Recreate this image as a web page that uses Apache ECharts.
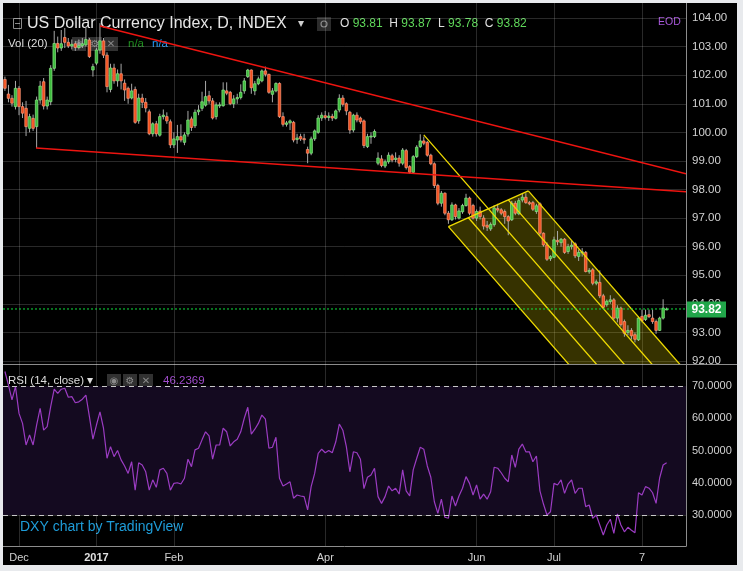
<!DOCTYPE html>
<html>
<head>
<meta charset="utf-8">
<title>US Dollar Currency Index</title>
<script src="https://cdn.jsdelivr.net/npm/echarts@6.0.0/dist/echarts.min.js"></script>
<style>
    html, body { margin: 0; padding: 0; background: #e8eaed; }
    #chart { position: absolute; left: 3px; top: 3px; width: 734px; height: 562px; background: #000; }
</style>
</head>
<body>
<div id="chart"></div>
<script>
// x = trading-day index, 0 = 1 Dec 2016, one step per weekday
var firstDay = -4;
var dayMin = -4.55, dayMax = 189.5;
var tickDays = [0, 22, 44, 87, 130, 152, 177];
var tickNames = ['Dec', '2017', 'Feb', 'Apr', 'Jun', 'Jul', '7'];
var priceTicks = [92, 93, 94, 95, 96, 97, 98, 99, 100, 101, 102, 103, 104];
var rsiTicks = [30, 40, 50, 60, 70];

var opens = [
    101.85, 101.34, 101.19, 100.90, 101.54, 100.90, 100.84, 100.14, 100.49, 100.20,
    101.13, 101.77, 100.92, 101.07, 102.24, 103.11, 102.95, 103.32, 103.15, 103.02,
    103.10, 102.97, 103.03, 103.06, 103.23, 102.18, 102.42, 102.88, 103.20, 102.70,
    101.50, 102.25, 101.80, 102.05, 101.72, 101.54, 101.20, 101.50, 100.40, 101.20,
    101.05, 100.72, 99.95, 100.30, 99.90, 100.55, 100.55, 100.37, 99.56, 99.73,
    99.85, 99.65, 99.94, 100.47, 100.23, 100.72, 100.84, 100.95, 101.28, 101.10,
    100.55, 100.95, 100.93, 101.45, 101.40, 101.00, 101.17, 101.22, 101.45, 101.95,
    102.18, 101.45, 101.70, 101.80, 102.15, 102.03, 101.33, 101.45, 101.71, 100.55,
    100.28, 100.33, 100.35, 99.75, 99.85, 99.78, 99.40, 99.27, 99.77, 100.00,
    100.50, 100.58, 100.52, 100.56, 100.49, 100.78, 101.20, 101.00, 100.70, 100.08,
    100.60, 100.50, 100.40, 99.50, 99.85, 99.85, 98.92, 99.07, 98.82, 98.97,
    99.18, 99.05, 99.10, 98.92, 99.36, 98.80, 98.60, 99.15, 99.50, 99.70,
    99.65, 99.20, 98.90, 98.14, 97.52, 97.87, 97.17, 96.94, 97.46, 97.00,
    97.22, 97.44, 97.70, 97.44, 97.00, 97.25, 97.00, 96.75, 96.62, 96.77,
    97.33, 97.29, 97.23, 97.05, 96.94, 97.52, 97.15, 97.63, 97.73, 97.54,
    97.54, 97.23, 97.50, 96.47, 96.06, 95.58, 95.63, 96.22, 96.14, 96.26,
    95.83, 96.00, 96.10, 95.66, 95.80, 95.80, 95.12, 95.19, 94.72, 94.75,
    94.28, 93.97, 94.08, 94.14, 93.50, 93.85, 93.38, 93.00, 93.07, 92.92,
    92.74, 93.56, 93.45, 93.62, 93.50, 93.38, 93.07, 93.50, 93.81
];
var highs = [
    101.95, 101.66, 101.30, 101.80, 101.62, 101.05, 101.10, 100.65, 100.62, 101.25,
    101.80, 101.90, 101.25, 102.35, 103.55, 103.35, 103.58, 103.65, 103.30, 103.25,
    103.20, 103.25, 103.30, 103.65, 103.30, 102.40, 102.95, 103.82, 103.30, 102.80,
    102.40, 102.40, 102.20, 102.40, 101.85, 101.60, 101.70, 101.60, 101.35, 101.35,
    101.20, 100.80, 100.35, 100.40, 100.65, 100.80, 100.70, 100.45, 100.00, 100.26,
    100.28, 100.00, 100.75, 100.55, 100.80, 100.95, 101.42, 101.80, 101.45, 101.20,
    101.05, 101.05, 101.75, 101.75, 101.45, 101.30, 101.35, 101.68, 101.90, 102.22,
    102.20, 101.80, 101.95, 102.20, 102.30, 102.05, 101.55, 101.75, 101.75, 100.70,
    100.40, 100.45, 100.40, 99.95, 99.95, 99.95, 99.50, 99.85, 100.10, 100.60,
    100.70, 100.75, 100.70, 100.65, 100.80, 101.33, 101.30, 101.05, 100.75, 100.65,
    100.70, 100.55, 100.45, 99.95, 100.00, 100.10, 99.30, 99.20, 99.05, 99.30,
    99.25, 99.30, 99.20, 99.45, 99.42, 98.85, 99.20, 99.55, 99.93, 99.85,
    99.70, 99.25, 98.95, 98.20, 97.95, 97.90, 97.25, 97.55, 97.50, 97.35,
    97.50, 97.85, 97.75, 97.50, 97.30, 97.40, 97.10, 96.90, 96.85, 97.45,
    97.50, 97.35, 97.30, 97.10, 97.60, 97.60, 97.70, 97.85, 97.87, 97.60,
    97.60, 97.50, 97.55, 96.50, 96.15, 95.70, 96.35, 96.55, 96.30, 96.30,
    96.10, 96.20, 96.15, 95.90, 95.95, 95.85, 95.25, 95.25, 94.85, 95.17,
    94.35, 94.15, 94.30, 94.20, 93.95, 93.90, 93.45, 93.25, 93.15, 93.00,
    93.55, 93.80, 93.80, 93.80, 93.80, 93.45, 93.55, 94.16, 93.87
];
var lows = [
    101.45, 101.05, 100.90, 100.80, 100.60, 100.50, 99.87, 100.00, 100.05, 99.45,
    101.00, 100.80, 100.80, 100.95, 102.15, 102.80, 102.85, 102.95, 102.95, 102.90,
    102.85, 102.90, 102.95, 103.00, 102.60, 101.95, 102.35, 102.75, 102.60, 101.40,
    101.40, 101.70, 101.60, 101.50, 101.10, 101.00, 101.15, 100.30, 100.30, 100.85,
    100.70, 99.90, 99.85, 99.85, 99.85, 100.45, 100.30, 99.45, 99.45, 99.28,
    99.65, 99.55, 99.85, 100.05, 100.15, 100.60, 100.75, 100.90, 101.00, 100.45,
    100.45, 100.85, 100.90, 101.30, 100.95, 100.85, 101.00, 101.15, 101.35, 101.90,
    101.35, 101.30, 101.65, 101.75, 101.95, 101.35, 101.05, 101.40, 100.50, 100.20,
    100.20, 100.08, 99.65, 99.60, 99.70, 99.60, 98.92, 99.20, 99.70, 99.95,
    100.40, 100.45, 100.40, 100.40, 100.45, 100.70, 100.90, 100.60, 99.95, 100.00,
    100.35, 100.30, 99.45, 99.45, 99.60, 99.80, 98.85, 98.78, 98.75, 98.90,
    98.95, 98.95, 98.80, 98.85, 98.70, 98.55, 98.55, 99.10, 99.45, 99.55,
    99.15, 98.85, 98.05, 97.45, 97.40, 97.10, 96.80, 96.90, 96.95, 96.95,
    97.15, 97.40, 97.10, 96.95, 96.90, 96.95, 96.60, 96.55, 96.55, 96.70,
    97.20, 97.10, 96.80, 96.40, 96.90, 97.10, 97.10, 97.55, 97.50, 97.45,
    97.25, 97.15, 96.40, 96.00, 95.50, 95.50, 95.60, 96.05, 96.00, 95.75,
    95.75, 95.90, 95.60, 95.50, 95.65, 95.10, 95.05, 94.65, 94.65, 94.20,
    93.85, 93.90, 94.00, 93.45, 93.35, 93.20, 92.85, 92.90, 92.75, 92.65,
    92.70, 93.35, 93.40, 93.50, 93.30, 92.95, 93.05, 93.45, 93.78
];
var closes = [
    101.54, 101.19, 101.02, 101.54, 100.90, 100.67, 100.20, 100.55, 100.14, 101.13,
    101.62, 100.92, 101.13, 102.24, 103.11, 102.95, 103.10, 103.15, 103.02, 103.08,
    102.97, 103.03, 103.10, 103.25, 102.65, 102.30, 102.88, 103.20, 102.70, 101.60,
    102.25, 101.80, 102.05, 101.80, 101.48, 101.19, 101.45, 100.35, 101.20, 101.05,
    100.85, 99.95, 100.30, 99.95, 100.55, 100.60, 100.40, 99.56, 99.77, 99.85,
    99.73, 99.91, 100.43, 100.17, 100.70, 100.78, 101.07, 101.25, 101.10, 100.50,
    100.96, 100.96, 101.48, 101.37, 101.00, 101.17, 101.22, 101.40, 101.80, 102.18,
    101.56, 101.70, 101.87, 102.15, 102.03, 101.40, 101.45, 101.71, 100.55, 100.28,
    100.33, 100.40, 99.73, 99.80, 99.77, 99.74, 99.27, 99.77, 100.05, 100.50,
    100.60, 100.52, 100.57, 100.50, 100.75, 101.19, 100.98, 100.75, 100.08, 100.60,
    100.43, 100.37, 99.54, 99.85, 99.87, 100.03, 99.10, 98.84, 98.97, 99.20,
    99.03, 99.10, 98.92, 99.38, 98.77, 98.60, 99.15, 99.48, 99.70, 99.62,
    99.20, 98.90, 98.14, 97.52, 97.87, 97.17, 96.94, 97.46, 97.05, 97.25,
    97.44, 97.70, 97.17, 97.00, 97.23, 97.05, 96.72, 96.68, 96.78, 97.35,
    97.28, 97.17, 97.05, 96.90, 97.52, 97.17, 97.61, 97.73, 97.54, 97.50,
    97.31, 97.43, 96.47, 96.06, 95.56, 95.65, 96.24, 96.17, 96.26, 95.80,
    96.00, 96.05, 95.68, 95.80, 95.82, 95.13, 95.17, 94.72, 94.77, 94.28,
    93.88, 94.09, 94.14, 93.50, 93.85, 93.27, 92.97, 93.07, 92.88, 92.76,
    93.50, 93.42, 93.60, 93.55, 93.38, 93.07, 93.50, 93.85, 93.82
];
var rsiValues = [
    74.5, 70.3, 65.7, 69.8, 61.5, 58.4, 51.7, 54.8, 51.7, 57.9,
    63.1, 56.3, 57.4, 63.6, 69.0, 67.7, 69.0, 69.3, 66.5, 66.7,
    64.8, 65.1, 65.9, 67.2, 60.5, 53.5, 57.9, 62.0, 56.9, 47.6,
    51.2, 48.1, 50.0, 47.1, 45.2, 42.9, 46.5, 37.7, 46.2, 45.5,
    43.4, 37.7, 40.9, 38.6, 44.0, 44.5, 42.9, 37.7, 39.8, 40.0,
    39.6, 41.4, 47.3, 45.0, 50.2, 50.7, 53.3, 55.8, 54.5, 47.3,
    51.7, 51.7, 56.9, 55.8, 51.4, 52.7, 53.5, 55.8, 60.0, 63.4,
    55.1, 56.6, 58.4, 61.0, 59.7, 50.7, 51.0, 54.1, 41.4, 39.0,
    39.6, 40.3, 35.2, 36.2, 35.9, 35.7, 31.6, 38.8, 42.9, 49.1,
    50.4, 49.3, 50.0, 49.3, 52.7, 58.2, 56.3, 51.2, 43.4, 49.6,
    49.3, 47.3, 38.2, 41.7, 42.4, 44.5, 35.7, 33.6, 35.7, 39.0,
    37.5, 38.3, 36.5, 44.0, 37.5, 35.9, 44.0, 47.6, 51.0, 50.4,
    45.2, 41.7, 34.1, 30.5, 34.9, 29.3, 29.0, 35.9, 32.8, 35.9,
    38.3, 41.9, 39.8, 36.2, 39.3, 34.9, 36.5, 34.9, 37.2, 44.8,
    44.5, 43.1, 41.4, 40.3, 48.6, 44.8, 50.4, 52.0, 49.6, 49.6,
    46.5, 48.3, 37.5, 33.4, 30.0, 31.0, 39.8, 39.3, 40.9, 36.7,
    39.6, 40.9, 36.7, 38.3, 38.3, 32.6, 33.1, 29.0, 30.0, 26.9,
    23.8, 26.9, 28.7, 24.3, 30.3, 26.9, 24.8, 26.2, 25.3, 24.5,
    36.9, 36.2, 38.8, 38.3, 36.9, 33.6, 41.4, 45.5, 46.2369
];

// drawings, as [day index, price]
var trendUpper = [[23, 103.72], [189.5, 98.55]];
var trendLower = [[4.83, 99.455], [189.5, 97.92]];
var forkA = [115, 99.91];
var forkB = [122, 96.70];
var forkC = [144.7, 97.95];
var forkLevels = [0, 0.25, 0.5, 0.75, 1];
var forkEndPrice = 91.5;

var upFill = '#3dbb3d', upEdge = '#8ee88a';
var downFill = '#f24f1c', downEdge = '#ff9a7c';
var priceLineColor = '#10e040';
var fontName = '"Liberation Sans", Arial, sans-serif';

var last = closes.length - 1;
var candleData = closes.map(function (c, i) {
    return [i + firstDay, opens[i], c, lows[i], highs[i]];
});
var rsiData = rsiValues.map(function (v, i) {
    return [i + firstDay, v];
});

function renderCandle(params, api) {
    var x = api.value(0);
    var o = api.coord([x, api.value(1)]);
    var c = api.coord([x, api.value(2)]);
    var lo = api.coord([x, api.value(3)]);
    var hi = api.coord([x, api.value(4)]);
    var w = api.size([1, 0])[0] * 0.72;
    var up = api.value(2) >= api.value(1);
    var top = Math.min(o[1], c[1]);
    var h = Math.max(Math.abs(o[1] - c[1]), 1);
    return {
        type: 'group',
        children: [
            {type: 'line', shape: {x1: hi[0], y1: hi[1], x2: lo[0], y2: lo[1]}, style: {stroke: '#a8a8a8', lineWidth: 1}},
            {type: 'rect', shape: {x: o[0] - w / 2, y: top, width: w, height: h},
                style: {fill: up ? upFill : downFill, stroke: up ? upEdge : downEdge, lineWidth: 0.7}}
        ]
    };
}

function forkGeometry() {
    var mid = [(forkB[0] + forkC[0]) / 2, (forkB[1] + forkC[1]) / 2];
    var slope = (mid[1] - forkA[1]) / (mid[0] - forkA[0]);
    function prongEnd(p) {
        return [p[0] + (forkEndPrice - p[1]) / slope, forkEndPrice];
    }
    return {mid: mid, prongEnd: prongEnd};
}

function renderForkFill(params, api) {
    var g = forkGeometry();
    return {
        type: 'polygon',
        shape: {points: [api.coord(forkB), api.coord(forkC), api.coord(g.prongEnd(forkC)), api.coord(g.prongEnd(forkB))]},
        style: {fill: 'rgba(235, 215, 0, 0.23)'}
    };
}

function renderLines(params, api) {
    var g = forkGeometry();
    var children = [];
    function seg(p1, p2, color, width) {
        var a = api.coord(p1), b = api.coord(p2);
        children.push({type: 'line', shape: {x1: a[0], y1: a[1], x2: b[0], y2: b[1]},
            style: {stroke: color, lineWidth: width}});
    }
    forkLevels.forEach(function (t) {
        var pt = [forkB[0] + t * (forkC[0] - forkB[0]), forkB[1] + t * (forkC[1] - forkB[1])];
        seg(t === 0.5 ? forkA : pt, g.prongEnd(pt), '#f0dc00', 1.3);
    });
    seg(forkB, forkC, '#f0dc00', 1.3);
    seg(trendUpper[0], trendUpper[1], '#ee1410', 1.5);
    seg(trendLower[0], trendLower[1], '#ee1410', 1.5);
    return {type: 'group', children: children};
}

function renderPriceTag(params, api) {
    var pos = api.coord([dayMax, closes[last]]);
    var y = Math.round(pos[1]) + 0.5;
    return {
        type: 'group',
        children: [
            {type: 'rect', shape: {x: pos[0] + 1, y: y - 8, width: 39, height: 16}, style: {fill: '#21a64a'}},
            {type: 'text', x: pos[0] + 20.5, y: y, style: {
                text: closes[last].toFixed(2), fill: '#fff', font: 'bold 12px ' + fontName,
                align: 'center', verticalAlign: 'middle'}}
        ]
    };
}

function textEl(x, y, text, color, size, extra) {
    var el = {type: 'text', x: x, y: y, silent: true,
        style: {text: text, fill: color, font: size + 'px ' + fontName, verticalAlign: 'middle'}};
    if (extra) {
        Object.keys(extra).forEach(function (k) { el.style[k] = extra[k]; });
    }
    return el;
}

function iconBox(x, y, glyph) {
    return [
        {type: 'rect', silent: true, shape: {x: x, y: y, width: 14, height: 14}, style: {fill: 'rgba(90, 90, 90, 0.55)'}},
        {type: 'text', silent: true, x: x + 7, y: y + 7, style: {text: glyph, fill: '#8a8a8a', font: '10px "DejaVu Sans"', align: 'center', verticalAlign: 'middle'}}
    ];
}

var ohlcText = '{w|O} {g|' + opens[last].toFixed(2) + '}  {w|H} {g|' + highs[last].toFixed(2) +
    '}  {w|L} {g|' + lows[last].toFixed(2) + '}  {w|C} {g|' + closes[last].toFixed(2) + '}';

var graphics = [
    {type: 'line', silent: true, shape: {x1: 0, y1: 361.5, x2: 734, y2: 361.5}, style: {stroke: '#8c8c8c', lineWidth: 1}},
    {type: 'rect', silent: true, shape: {x: 10.5, y: 15.5, width: 8, height: 10}, style: {fill: 'none', stroke: '#8a8a8a', lineWidth: 1}},
    {type: 'line', silent: true, shape: {x1: 12, y1: 20.5, x2: 17, y2: 20.5}, style: {stroke: '#8a8a8a', lineWidth: 1}},
    textEl(24, 21, 'US Dollar Currency Index, D, INDEX', '#e6e6e6', 16),
    textEl(295, 21, '\u25BE', '#cfcfcf', 12),
    {type: 'rect', silent: true, shape: {x: 314, y: 14, width: 14, height: 14}, style: {fill: '#2c2c2c'}},
    {type: 'circle', silent: true, shape: {cx: 321, cy: 21, r: 3}, style: {fill: 'none', stroke: '#8a8a8a', lineWidth: 1.2}},
    textEl(337, 21, ohlcText, '#e0e0e0', 12, {rich: {
        w: {fill: '#e0e0e0', font: '12px ' + fontName},
        g: {fill: '#5fd85a', font: '12px ' + fontName}
    }}),
    textEl(655, 19, 'EOD', '#a657d8', 10.5),
    textEl(5, 41, 'Vol (20)', '#dcdcdc', 11.5),
    textEl(125, 41, 'n/a', '#1f8f1f', 11.5),
    textEl(149, 41, 'n/a', '#2196f3', 11.5),
    textEl(5, 378, 'RSI (14, close) \u25BE', '#dcdcdc', 11.5),
    textEl(160, 378, rsiValues[last].toFixed(4), '#a04ccc', 11.5),
    textEl(17, 524, 'DXY chart by TradingView', '#1e9cd8', 14)
]
    .concat(iconBox(69, 34, '\u25C9'), iconBox(85, 34, '\u2699'), iconBox(101, 34, '\u2715'))
    .concat(iconBox(104, 371, '\u25C9'), iconBox(120, 371, '\u2699'), iconBox(136, 371, '\u2715'));

var myChart = echarts.init(document.getElementById('chart'));

var xCommon = {
    type: 'value',
    min: dayMin,
    max: dayMax,
    axisTick: {show: false, customValues: tickDays},
    splitLine: {show: true, lineStyle: {color: 'rgba(255, 255, 255, 0.16)', width: 1}}
};

var option = {
    backgroundColor: '#000',
    animation: false,
    grid: [
        {left: 0, top: 0, right: 51, height: 361, outerBoundsMode: 'none'},
        {left: 0, top: 361, right: 51, height: 182, outerBoundsMode: 'none'}
    ],
    xAxis: [
        Object.assign({}, xCommon, {
            gridIndex: 0,
            axisLine: {show: false, onZero: false},
            axisLabel: {show: false, customValues: tickDays}
        }),
        Object.assign({}, xCommon, {
            gridIndex: 1,
            axisLine: {show: true, onZero: false, lineStyle: {color: '#8c8c8c'}},
            axisLabel: {
                customValues: tickDays,
                color: '#d0d0d0',
                fontSize: 11,
                fontFamily: fontName,
                margin: 6,
                formatter: function (v) {
                    var name = tickNames[tickDays.indexOf(v)];
                    return name === '2017' ? '{b|' + name + '}' : name;
                },
                rich: {b: {fontWeight: 'bold', fontSize: 11, color: '#e0e0e0', fontFamily: fontName}}
            }
        })
    ],
    yAxis: [
        {
            type: 'value',
            gridIndex: 0,
            position: 'right',
            min: 91.895,
            max: 104.525,
            axisLine: {show: true, onZero: false, lineStyle: {color: '#8c8c8c'}},
            axisTick: {show: false, customValues: priceTicks},
            axisLabel: {
                customValues: priceTicks,
                color: '#d2d2d2',
                fontSize: 11.5,
                fontFamily: fontName,
                margin: 6,
                formatter: function (v) { return v.toFixed(2); }
            },
            splitLine: {show: true, lineStyle: {color: 'rgba(255, 255, 255, 0.16)'}}
        },
        {
            type: 'value',
            gridIndex: 1,
            position: 'right',
            min: 20.39,
            max: 76.82,
            axisLine: {show: true, onZero: false, lineStyle: {color: '#8c8c8c'}},
            axisTick: {show: false, customValues: rsiTicks},
            axisLabel: {
                customValues: rsiTicks,
                color: '#d2d2d2',
                fontSize: 11,
                fontFamily: fontName,
                margin: 6,
                formatter: function (v) { return v.toFixed(4); }
            },
            splitLine: {show: true, lineStyle: {color: 'rgba(255, 255, 255, 0.16)'}}
        }
    ],
    graphic: graphics,
    series: [
        {
            name: 'band',
            type: 'line',
            xAxisIndex: 1,
            yAxisIndex: 1,
            z: -1,
            data: rsiData,
            symbol: 'none',
            silent: true,
            lineStyle: {opacity: 0},
            markArea: {
                silent: true,
                itemStyle: {color: '#140a20'},
                data: [[{yAxis: 30}, {yAxis: 70}]]
            }
        },
        {
            name: 'fork fill',
            type: 'custom',
            xAxisIndex: 0,
            yAxisIndex: 0,
            z: 1,
            clip: true,
            silent: true,
            data: [forkA],
            renderItem: renderForkFill
        },
        {
            name: 'DXY',
            type: 'custom',
            xAxisIndex: 0,
            yAxisIndex: 0,
            z: 2,
            clip: true,
            silent: true,
            data: candleData,
            encode: {x: 0, y: [1, 2, 3, 4]},
            renderItem: renderCandle
        },
        {
            name: 'drawings',
            type: 'custom',
            xAxisIndex: 0,
            yAxisIndex: 0,
            z: 3,
            clip: true,
            silent: true,
            data: [forkA],
            renderItem: renderLines
        },
        {
            name: 'last price line',
            type: 'line',
            xAxisIndex: 0,
            yAxisIndex: 0,
            z: 4,
            silent: true,
            symbol: 'none',
            data: [[dayMin, closes[last]], [dayMax, closes[last]]],
            lineStyle: {color: priceLineColor, width: 1, type: [2, 2]}
        },
        {
            name: 'price tag',
            type: 'custom',
            xAxisIndex: 0,
            yAxisIndex: 0,
            z: 5,
            clip: false,
            silent: true,
            data: [[last + firstDay, closes[last]]],
            renderItem: renderPriceTag
        },
        {
            name: 'RSI',
            type: 'line',
            xAxisIndex: 1,
            yAxisIndex: 1,
            z: 2,
            data: rsiData,
            symbol: 'none',
            silent: true,
            lineStyle: {color: '#9b3cc2', width: 1.2},
            markLine: {
                silent: true,
                symbol: ['none', 'none'],
                label: {show: false},
                lineStyle: {color: '#c8c8c8', type: [5, 4], width: 1},
                data: [{yAxis: 70}, {yAxis: 30}]
            }
        }
    ]
};

myChart.setOption(option);
</script>
</body>
</html>
